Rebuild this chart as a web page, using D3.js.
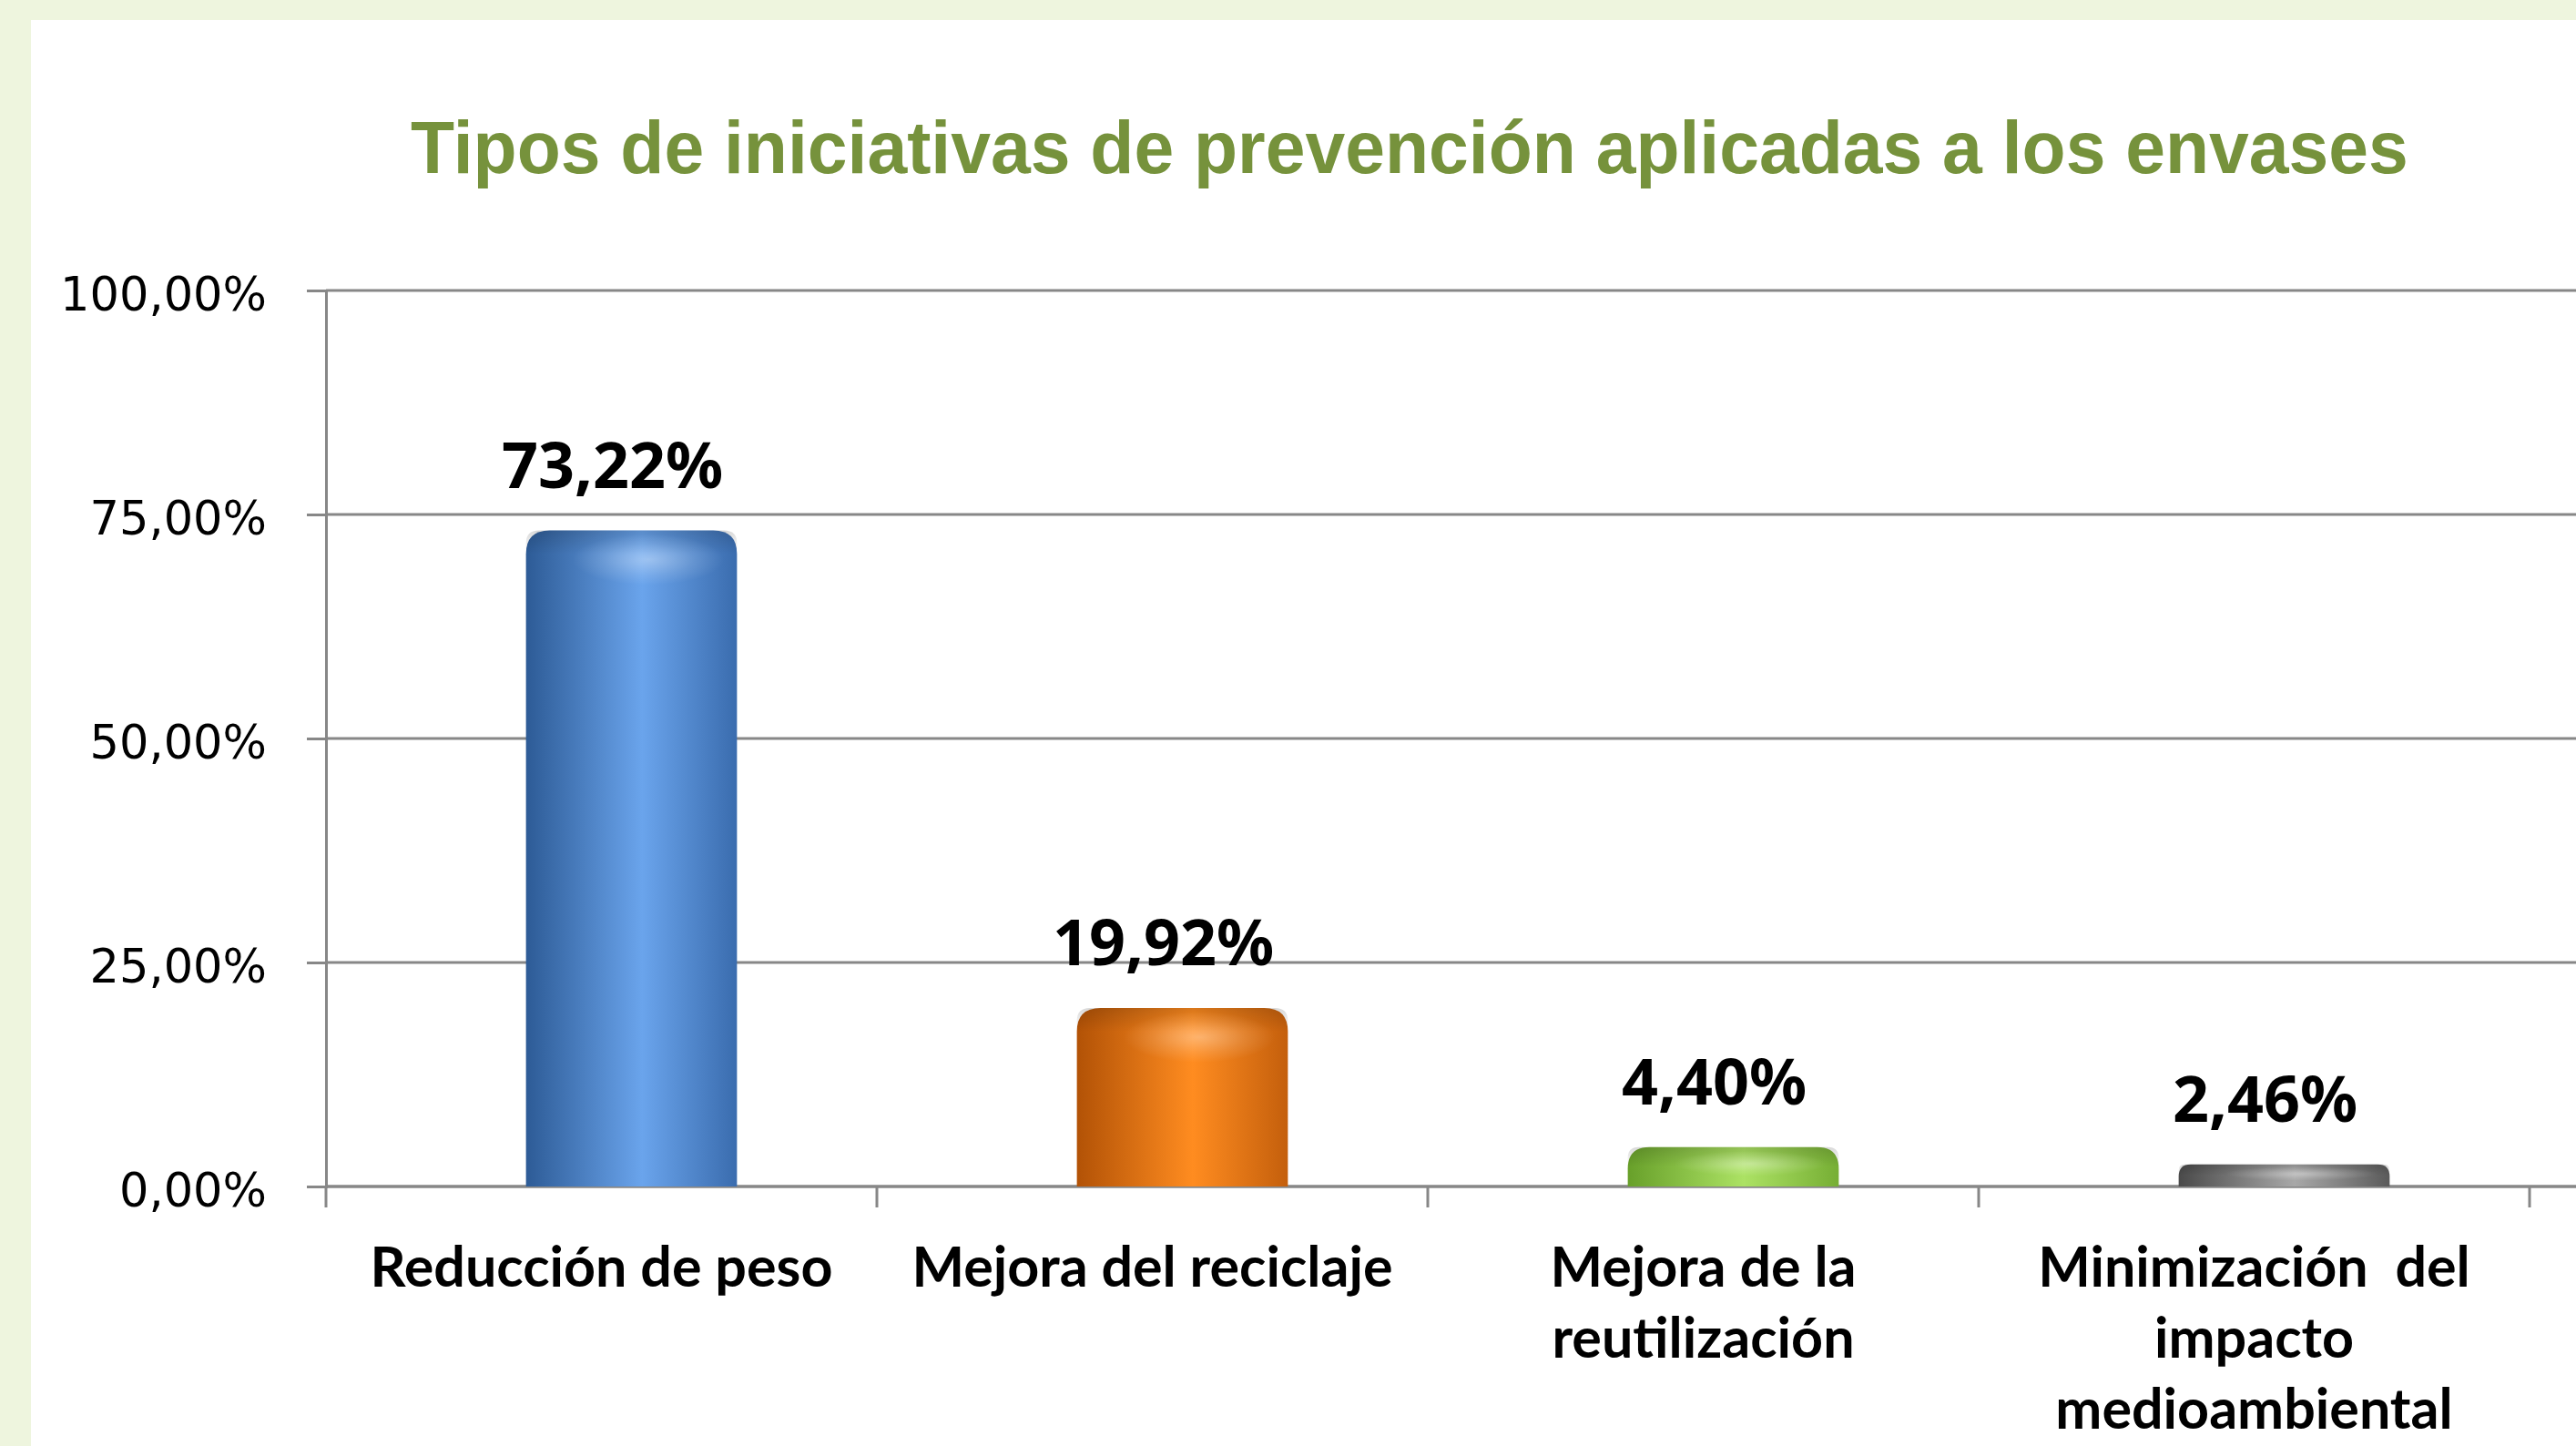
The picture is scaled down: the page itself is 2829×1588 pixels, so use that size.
<!DOCTYPE html>
<html>
<head>
<meta charset="utf-8">
<script src="https://cdn.jsdelivr.net/npm/d3@7"></script>
<style>
  html, body { margin: 0; padding: 0; background: #EEF5DE; }
  svg { display: block; }
  text { white-space: pre; }
</style>
</head>
<body>
<svg id="chart" width="2829" height="1588"></svg>
<script>
// ---- data ----
const title = "Tipos de iniciativas de prevención aplicadas a los envases";
const categories = [
  ["Reducción de peso"],
  ["Mejora del reciclaje"],
  ["Mejora de la", "reutilización"],
  ["Minimización  del", "impacto", "medioambiental"]
];
const values = [73.22, 19.92, 4.40, 2.46];
const yTicks = [0, 25, 50, 75, 100];
const barColors = [
  { dark: "#2D5B96", mid: "#6AA4EC", edge: "#3A6CAE" },
  { dark: "#B25206", mid: "#FF8C20", edge: "#C45F0C" },
  { dark: "#68A02A", mid: "#ACE264", edge: "#76AE34" },
  { dark: "#4A4A4A", mid: "#A8A8A8", edge: "#5A5A5A" }
];

const fmt = v => v.toFixed(2).replace(".", ",") + "%";

// ---- layout ----
const W = 2829, H = 1588;
const panel = { x: 34, y: 22 };
const plot = { left: 358, right: 2778, top: 319, bottom: 1303 };

const svg = d3.select("#chart");

svg.append("rect").attr("x", panel.x).attr("y", panel.y)
  .attr("width", W - panel.x).attr("height", H - panel.y).attr("fill", "#FFFFFF");

const x = d3.scaleBand().domain(d3.range(categories.length))
  .range([plot.left, plot.right]).padding(0);
const y = d3.scaleLinear().domain([0, 100]).range([plot.bottom, plot.top]);

// defs: gradients
const defs = svg.append("defs");
barColors.forEach((c, i) => {
  const g = defs.append("linearGradient").attr("id", "bg" + i)
    .attr("x1", "0").attr("x2", "1").attr("y1", "0").attr("y2", "0");
  g.append("stop").attr("offset", "0%").attr("stop-color", c.dark);
  g.append("stop").attr("offset", "55%").attr("stop-color", c.mid);
  g.append("stop").attr("offset", "100%").attr("stop-color", c.edge);
});
const hl = defs.append("radialGradient").attr("id", "hl")
  .attr("cx", "0.5").attr("cy", "0.5").attr("r", "0.5");
hl.append("stop").attr("offset", "0%").attr("stop-color", "#FFFFFF").attr("stop-opacity", 0.35);
hl.append("stop").attr("offset", "60%").attr("stop-color", "#FFFFFF").attr("stop-opacity", 0.12);
hl.append("stop").attr("offset", "100%").attr("stop-color", "#FFFFFF").attr("stop-opacity", 0);
const rim = defs.append("linearGradient").attr("id", "rim")
  .attr("x1", "0").attr("x2", "0").attr("y1", "0").attr("y2", "1");
rim.append("stop").attr("offset", "0%").attr("stop-color", "#000").attr("stop-opacity", 0.15);
rim.append("stop").attr("offset", "100%").attr("stop-color", "#000").attr("stop-opacity", 0);

// gridlines
const gridColor = "#878787";
svg.append("g").selectAll("line").data(yTicks).join("line")
  .attr("x1", plot.left).attr("x2", W)
  .attr("y1", d => y(d)).attr("y2", d => y(d))
  .attr("stroke", gridColor).attr("stroke-width", 3);

// y axis
const yAxis = d3.axisLeft(y).tickValues(yTicks)
  .tickFormat(d => fmt(d)).tickSize(21).tickPadding(44);
const gy = svg.append("g").attr("transform", `translate(${plot.left},0)`).call(yAxis);
gy.select(".domain").attr("stroke", gridColor).attr("stroke-width", 3);
gy.selectAll(".tick line").attr("stroke", gridColor).attr("stroke-width", 3);
gy.selectAll(".tick text")
  .attr("font-family", "'DejaVu Sans', Verdana, sans-serif")
  .attr("font-size", 51).attr("fill", "#000").attr("dy", "0.42em");

// x axis ticks at category boundaries
const bounds = d3.range(categories.length + 1).map(i => plot.left + i * x.step());
svg.append("g").selectAll("line").data(bounds).join("line")
  .attr("x1", d => d).attr("x2", d => d)
  .attr("y1", plot.bottom).attr("y2", plot.bottom + 23)
  .attr("stroke", gridColor).attr("stroke-width", 3);
svg.append("line").attr("x1", plot.left).attr("x2", W)
  .attr("y1", plot.bottom).attr("y2", plot.bottom)
  .attr("stroke", gridColor).attr("stroke-width", 3);

// bars
const barW = x.bandwidth() * 0.383;
const barShift = 33;
function barPath(x0, top, w, bottom) {
  const h = bottom - top;
  const r = Math.min(26, h * 0.55, w / 2);
  return `M${x0},${bottom} V${top + r} Q${x0},${top} ${x0 + r},${top} H${x0 + w - r} Q${x0 + w},${top} ${x0 + w},${top + r} V${bottom} Z`;
}
const bars = svg.append("g").selectAll("g").data(values).join("g");
bars.append("path")
  .attr("d", (d, i) => {
    const cx = x(i) + x.bandwidth() / 2 + barShift;
    return barPath(cx - barW / 2, y(d), barW, plot.bottom);
  })
  .attr("fill", (d, i) => `url(#bg${i})`);
// top rim shading
bars.append("path")
  .attr("d", (d, i) => {
    const cx = x(i) + x.bandwidth() / 2 + barShift;
    const h = Math.min(26, (plot.bottom - y(d)) * 0.5);
    return barPath(cx - barW / 2, y(d), barW, y(d) + h);
  })
  .attr("fill", "url(#rim)");
// highlight
bars.append("ellipse")
  .attr("cx", (d, i) => x(i) + x.bandwidth() / 2 + barShift + barW * 0.08)
  .attr("cy", d => y(d) + Math.min(32, (plot.bottom - y(d)) * 0.42))
  .attr("rx", barW * 0.36)
  .attr("ry", d => Math.min(28, (plot.bottom - y(d)) * 0.32))
  .attr("fill", "url(#hl)");

// value labels
svg.append("g").selectAll("text").data(values).join("text")
  .attr("x", (d, i) => x(i) + x.bandwidth() / 2 + 12)
  .attr("y", d => y(d) - 47)
  .attr("text-anchor", "middle")
  .attr("font-family", "'Noto Sans', 'DejaVu Sans', sans-serif")
  .attr("font-weight", "bold").attr("font-size", 70).attr("fill", "#000")
  .text(d => fmt(d));

// category labels
const cl = svg.append("g").selectAll("text").data(categories).join("text")
  .attr("x", (d, i) => x(i) + x.bandwidth() / 2)
  .attr("y", 1413)
  .attr("text-anchor", "middle")
  .attr("font-family", "Lato, 'Open Sans', sans-serif")
  .attr("font-weight", "bold").attr("font-size", 61).attr("fill", "#000");
cl.selectAll("tspan").data(d => d).join("tspan")
  .attr("x", function() { return d3.select(this.parentNode).attr("x"); })
  .attr("dy", (d, j) => j === 0 ? 0 : 78)
  .text(d => d);

// title
const t = svg.append("text")
  .attr("x", 1548).attr("y", 190)
  .attr("text-anchor", "middle")
  .attr("font-family", "'Liberation Sans Narrow', 'Arial Narrow', 'Liberation Sans', Arial, sans-serif")
  .attr("font-weight", "bold").attr("font-size", 81).attr("fill", "#76923C")
  .text(title);
const tw = t.node().getComputedTextLength();
const targetW = 2194;
if (Math.abs(tw - targetW) > 10) {
  const s = targetW / tw;
  t.attr("transform", `translate(1548,0) scale(${s},1) translate(-1548,0)`);
}
</script>
</body>
</html>
